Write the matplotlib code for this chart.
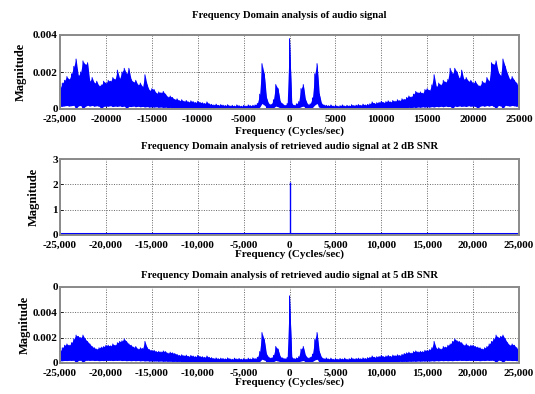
import numpy as np
import matplotlib
matplotlib.use("Agg")
import matplotlib.pyplot as plt

# ---------------- data ----------------
# positive-frequency grid (Hz); spectra are mirrored to negative frequencies
freq_pos = list(range(0, 25001, 250))

# Panel 1: original audio signal, upper / lower envelope of magnitude
audio_upper = [
    0.0038, 0.00030, 0.00020, 0.00028, 0.00040, 0.00110, 0.00132, 0.00050, 0.00025, 0.00028,
    0.00060, 0.00190, 0.00245, 0.00080, 0.00030, 0.00022, 0.00020, 0.00018, 0.00022, 0.00016,
    0.00020, 0.00015, 0.00018, 0.00022, 0.00016, 0.00020, 0.00017, 0.00023, 0.00019, 0.00021,
    0.00024, 0.00020, 0.00026, 0.00022, 0.00025, 0.00028, 0.00038, 0.00030, 0.00034, 0.00036,
    0.00042, 0.00035, 0.00040, 0.00044, 0.00038, 0.00046, 0.00042, 0.00050, 0.00045, 0.00055,
    0.00052, 0.00062, 0.00070, 0.00065, 0.00080, 0.00095, 0.00088, 0.00092, 0.00085, 0.00105,
    0.00110, 0.00100, 0.00130, 0.00185, 0.00120, 0.00140, 0.00130, 0.00155, 0.00145, 0.00160,
    0.00220, 0.00190, 0.00220, 0.00200, 0.00165, 0.00210, 0.00160, 0.00170, 0.00150, 0.00155,
    0.00140, 0.00150, 0.00130, 0.00125, 0.00150, 0.00140, 0.00170, 0.00150, 0.00250, 0.00240,
    0.00260, 0.00200, 0.00180, 0.00270, 0.00230, 0.00190, 0.00160, 0.00175, 0.00155, 0.00140,
    0.00110,
]
audio_lower = [
    0.0, 0.00004, 0.00003, 0.00004, 0.00006, 0.00012, 0.00016, 0.00006, 0.00003, 0.00004,
    0.00008, 0.00022, 0.00030, 0.00010, 0.00004, 0.00003, 0.00002, 0.00004, 0.00002, 0.00003,
    0.00002, 0.00004, 0.00002, 0.00003, 0.00002, 0.00004, 0.00002, 0.00003, 0.00002, 0.00004,
    0.00003, 0.00002, 0.00004, 0.00003, 0.00004, 0.00003, 0.00005, 0.00004, 0.00005, 0.00004,
    0.00004, 0.00006, 0.00003, 0.00007, 0.00005, 0.00006, 0.00008, 0.00005, 0.00007, 0.00006,
    0.00008, 0.00006, 0.00009, 0.00007, 0.00010, 0.00008, 0.00011, 0.00009, 0.00012, 0.00010,
    0.00012, 0.00010, 0.00013, 0.00011, 0.00014, 0.00012, 0.00015, 0.00012, 0.00016, 0.00013,
    0.00014, 0.00002, 0.00016, 0.00013, 0.00017, 0.00014, 0.00016, 0.00013, 0.00018, 0.00015,
    0.00016, 0.00014, 0.00003, 0.00015, 0.00018, 0.00015, 0.00019, 0.00016, 0.00020, 0.00014,
    0.00002, 0.00019, 0.00017, 0.00002, 0.00020, 0.00018, 0.00016, 0.00019, 0.00017, 0.00015,
    0.00014,
]

# Panel 2: retrieved signal at 2 dB SNR
snr2_freq = [-25000, 0, 25000]
snr2_floor = [0.04, 0.04, 0.04]
snr2_dc = 2.1

# Panel 3: retrieved signal at 5 dB SNR
snr5_upper = [
    0.0053, 0.00045, 0.00035, 0.00040, 0.00050, 0.00110, 0.00130, 0.00060, 0.00040, 0.00045,
    0.00070, 0.00185, 0.00240, 0.00090, 0.00045, 0.00035, 0.00040, 0.00032, 0.00038, 0.00030,
    0.00035, 0.00030, 0.00036, 0.00032, 0.00038, 0.00030, 0.00034, 0.00040, 0.00033, 0.00036,
    0.00038, 0.00034, 0.00040, 0.00036, 0.00042, 0.00045, 0.00055, 0.00045, 0.00050, 0.00052,
    0.00060, 0.00050, 0.00055, 0.00060, 0.00052, 0.00062, 0.00058, 0.00065, 0.00060, 0.00068,
    0.00075, 0.00080, 0.00085, 0.00078, 0.00090, 0.00095, 0.00088, 0.00092, 0.00090, 0.00100,
    0.00100, 0.00105, 0.00120, 0.00170, 0.00115, 0.00120, 0.00110, 0.00130, 0.00125, 0.00140,
    0.00150, 0.00170, 0.00190, 0.00175, 0.00170, 0.00160, 0.00140, 0.00150, 0.00135, 0.00140,
    0.00140, 0.00130, 0.00125, 0.00120, 0.00110, 0.00120, 0.00130, 0.00150, 0.00170, 0.00190,
    0.00220, 0.00200, 0.00210, 0.00220, 0.00190, 0.00160, 0.00140, 0.00150, 0.00140, 0.00120,
    0.00090,
]
snr5_lower = [
    0.0, 0.00008, 0.00006, 0.00008, 0.00010, 0.00016, 0.00020, 0.00010, 0.00006, 0.00008,
    0.00012, 0.00024, 0.00030, 0.00012, 0.00008, 0.00006, 0.00008, 0.00005, 0.00008, 0.00006,
    0.00007, 0.00005, 0.00008, 0.00006, 0.00008, 0.00005, 0.00007, 0.00008, 0.00006, 0.00007,
    0.00008, 0.00006, 0.00009, 0.00007, 0.00009, 0.00008, 0.00010, 0.00008, 0.00011, 0.00009,
    0.00010, 0.00009, 0.00011, 0.00010, 0.00012, 0.00010, 0.00012, 0.00011, 0.00013, 0.00012,
    0.00013, 0.00012, 0.00014, 0.00013, 0.00015, 0.00013, 0.00016, 0.00014, 0.00016, 0.00015,
    0.00017, 0.00015, 0.00018, 0.00016, 0.00019, 0.00017, 0.00020, 0.00018, 0.00020, 0.00018,
    0.00020, 0.00018, 0.00021, 0.00019, 0.00022, 0.00020, 0.00021, 0.00019, 0.00021, 0.00020,
    0.00021, 0.00019, 0.00020, 0.00018, 0.00021, 0.00019, 0.00022, 0.00020, 0.00022, 0.00020,
    0.00004, 0.00022, 0.00020, 0.00003, 0.00022, 0.00020, 0.00021, 0.00019, 0.00020, 0.00018,
    0.00017,
]

titles = [
    "Frequency Domain analysis of audio signal",
    "Frequency Domain analysis of retrieved audio signal at 2 dB SNR",
    "Frequency Domain analysis of retrieved audio signal at 5 dB SNR",
]
xlabel = "Frequency (Cycles/sec)"
ylabel = "Magnitude"
xticks = [-25000, -20000, -15000, -10000, -5000, 0, 5000, 10000, 15000, 20000, 25000]
xtick_labels_1 = ["-25,000", "-20000", "-15000", "-10000", "-5000", "0",
                  "5000", "10000", "15000", "20000", "25000"]
xtick_labels_23 = ["-25,000", "-20,000", "-15,000", "-10,000", "-5,000", "0",
                   "5,000", "10,000", "15,000", "20,000", "25,000"]
yticks_1 = [0, 0.002, 0.004]
ytick_labels_1 = ["0", "0.002", "0.004"]
yticks_2 = [0, 1, 2, 3]
ytick_labels_2 = ["0", "1", "2", "3"]
yticks_3 = [0, 0.002, 0.004, 0.006]
ytick_labels_3 = ["0", "0.002", "0.004", "0"]


# ---------------- helpers ----------------
def mirror(freq, vals):
    f = np.asarray(freq, float)
    v = np.asarray(vals, float)
    return np.concatenate([-f[:0:-1], f]), np.concatenate([v[:0:-1], v])


def draw_spectrum(ax, freq, upper, lower):
    fx, ux = mirror(freq, upper)
    _, lx = mirror(freq, lower)
    ax.fill_between(fx, lx, ux, color=BLUE, linewidth=0)
    xs = np.repeat(fx, 2)
    ys = np.empty(2 * len(fx))
    ys[0::2] = lx
    ys[1::2] = ux
    ax.plot(xs, ys, color=BLUE, linewidth=0.7)


FONT = "Liberation Serif"
BLUE = "#0000ff"
plt.rcParams["font.family"] = FONT
plt.rcParams["font.weight"] = "bold"

fig = plt.figure(figsize=(5.35, 3.94), dpi=100)
W, H = 535, 394
boxes = [(60, 35, 519, 109), (60, 159, 519, 235), (60, 287, 519, 363)]
axes = []
for (l, t, r, b) in boxes:
    axes.append(fig.add_axes([l / W, (H - b) / H, (r - l) / W, (b - t) / H]))

title_pads = [12.5, 7.5, 6.5]
xlabel_pads = [1.5, -0.5, -0.5]
ylabel_x = [-0.073, -0.043, -0.063]


def style(ax, yt, ytl, xtl, title, tpad, xpad, ylx):
    ax.set_xlim(-25000, 25000)
    ax.set_ylim(yt[0], yt[-1])
    ax.set_xticks(xticks)
    ax.set_xticklabels(xtl, fontsize=8, fontweight="bold", family=FONT)
    ax.set_yticks(yt)
    ax.set_yticklabels(ytl, fontsize=8, fontweight="bold", family=FONT)
    ax.tick_params(direction="in", length=2, width=0.6, colors="black")
    ax.tick_params(axis="x", pad=4.3)
    ax.tick_params(axis="y", pad=1.5)
    ax.grid(True, linestyle=(0, (1, 1.5)), color="#666666", linewidth=0.7)
    ax.set_axisbelow(True)
    for s in ax.spines.values():
        s.set_color("#8a8a8a")
        s.set_linewidth(1.4)
    ax.set_title(title, fontsize=7.7, fontweight="bold", family=FONT, pad=tpad)
    ax.set_xlabel(xlabel, fontsize=8, fontweight="bold", family=FONT, labelpad=xpad)
    ax.set_ylabel(ylabel, fontsize=9, fontweight="bold", family=FONT)
    ax.yaxis.set_label_coords(ylx, 0.5)


# Panel 1
ax = axes[0]
draw_spectrum(ax, freq_pos, audio_upper, audio_lower)
style(ax, yticks_1, ytick_labels_1, xtick_labels_1, titles[0],
      title_pads[0], xlabel_pads[0], ylabel_x[0])

# Panel 2
ax = axes[1]
ax.plot(snr2_freq, snr2_floor, color=BLUE, linewidth=2.2)
ax.vlines([0], 0, [snr2_dc], color=BLUE, linewidth=1.0)
style(ax, yticks_2, ytick_labels_2, xtick_labels_23, titles[1],
      title_pads[1], xlabel_pads[1], ylabel_x[1])

# Panel 3
ax = axes[2]
draw_spectrum(ax, freq_pos, snr5_upper, snr5_lower)
style(ax, yticks_3, ytick_labels_3, xtick_labels_23, titles[2],
      title_pads[2], xlabel_pads[2], ylabel_x[2])

fig.savefig("out.png", dpi=100, facecolor="white")
